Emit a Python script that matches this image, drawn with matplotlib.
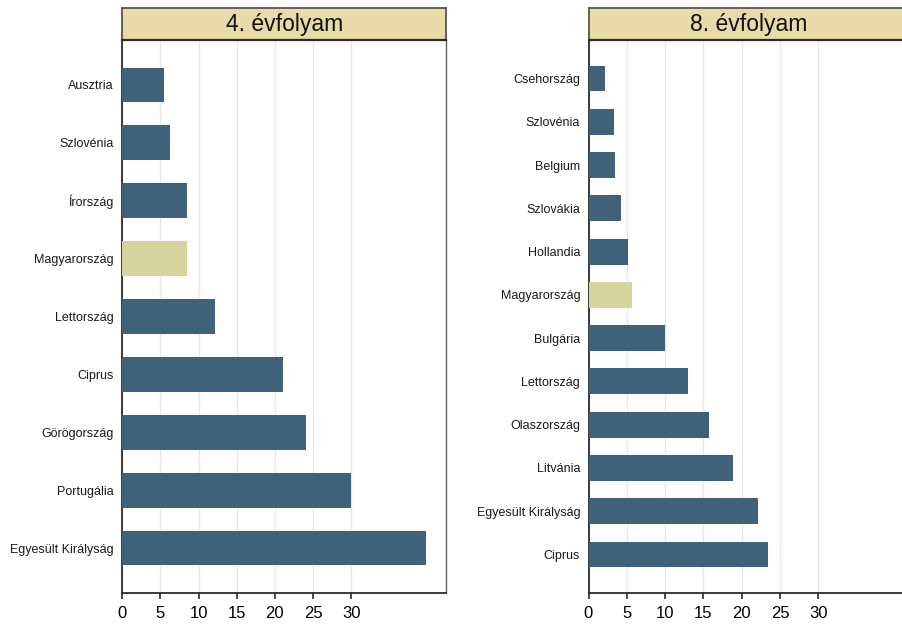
import matplotlib
matplotlib.use("Agg")
import matplotlib.pyplot as plt

plt.rcParams['font.family'] = ['Liberation Sans', 'DejaVu Sans']

# Data
countries_4 = ["Ausztria", "Szlovénia", "Írország", "Magyarország", "Lettország",
               "Ciprus", "Görögország", "Portugália", "Egyesült Királyság"]
values_4 = [5.5, 6.3, 8.5, 8.5, 12.1, 21.1, 24.1, 30.0, 39.8]

countries_8 = ["Csehország", "Szlovénia", "Belgium", "Szlovákia", "Hollandia",
               "Magyarország", "Bulgária", "Lettország", "Olaszország", "Litvánia",
               "Egyesült Királyság", "Ciprus"]
values_8 = [2.1, 3.3, 3.4, 4.3, 5.2, 5.7, 10.0, 13.0, 15.7, 18.8, 22.1, 23.4]

titles = ["4. évfolyam", "8. évfolyam"]
xticks = [0, 5, 10, 15, 20, 25, 30]
highlight = "Magyarország"

BAR = "#3f6179"
HUN = "#d7d39c"
TITLE_BG = "#e8dba8"
SPINE = "#2b2b2b"

W, H = 903, 629
fig = plt.figure(figsize=(W / 100, H / 100), dpi=100)


def px_rect(x0, x1, ytop, ybot):
    return [x0 / W, 1 - ybot / H, (x1 - x0) / W, (ybot - ytop) / H]


def panel(x0, x1, countries, values, title, xmax, margin, right_spine):
    ax = fig.add_axes(px_rect(x0, x1, 40, 593))
    n = len(countries)
    colors = [HUN if c == highlight else BAR for c in countries]
    ax.barh(range(n), values, height=0.6, color=colors, zorder=3)
    ax.set_yticks(range(n))
    ax.set_yticklabels(countries, fontsize=9, color='#1a1a1a')
    ax.set_ylim(n - 1 + margin, -margin)
    ax.set_xlim(0, xmax)
    ax.set_xticks(xticks)
    ax.set_xticklabels([str(t) for t in xticks], fontsize=12)
    ax.tick_params(axis='y', length=0, pad=6)
    ax.tick_params(axis='x', length=4.5, width=1.2, color=SPINE, direction='out', pad=4.5)
    ax.grid(axis='x', color='#e6e6e6', linewidth=0.9, zorder=0)
    for s in ['left', 'bottom']:
        ax.spines[s].set_color(SPINE)
        ax.spines[s].set_linewidth(1.3)
    ax.spines['top'].set_visible(False)
    if right_spine:
        ax.spines['right'].set_color('#666666')
        ax.spines['right'].set_linewidth(1.0)
    else:
        ax.spines['right'].set_visible(False)
    # Title box
    tax = fig.add_axes(px_rect(x0, x1, 8, 40))
    tax.set_facecolor(TITLE_BG)
    tax.set_xticks([])
    tax.set_yticks([])
    for s in tax.spines.values():
        s.set_color('#555555')
        s.set_linewidth(1.3)
    tax.spines['bottom'].set_color(SPINE)
    tax.spines['bottom'].set_linewidth(1.6)
    tax.text(0.5, 0.5, title, ha='center', va='center', fontsize=16.5,
             color='#111111', transform=tax.transAxes)
    return ax


panel(122.3, 446, countries_4, values_4, titles[0], (446 - 122.3) / 7.63, 0.776, True)
panel(588.5, 909, countries_8, values_8, titles[1], (909 - 588.5) / 7.66, 0.89, False)

fig.savefig("out.png", dpi=100)
